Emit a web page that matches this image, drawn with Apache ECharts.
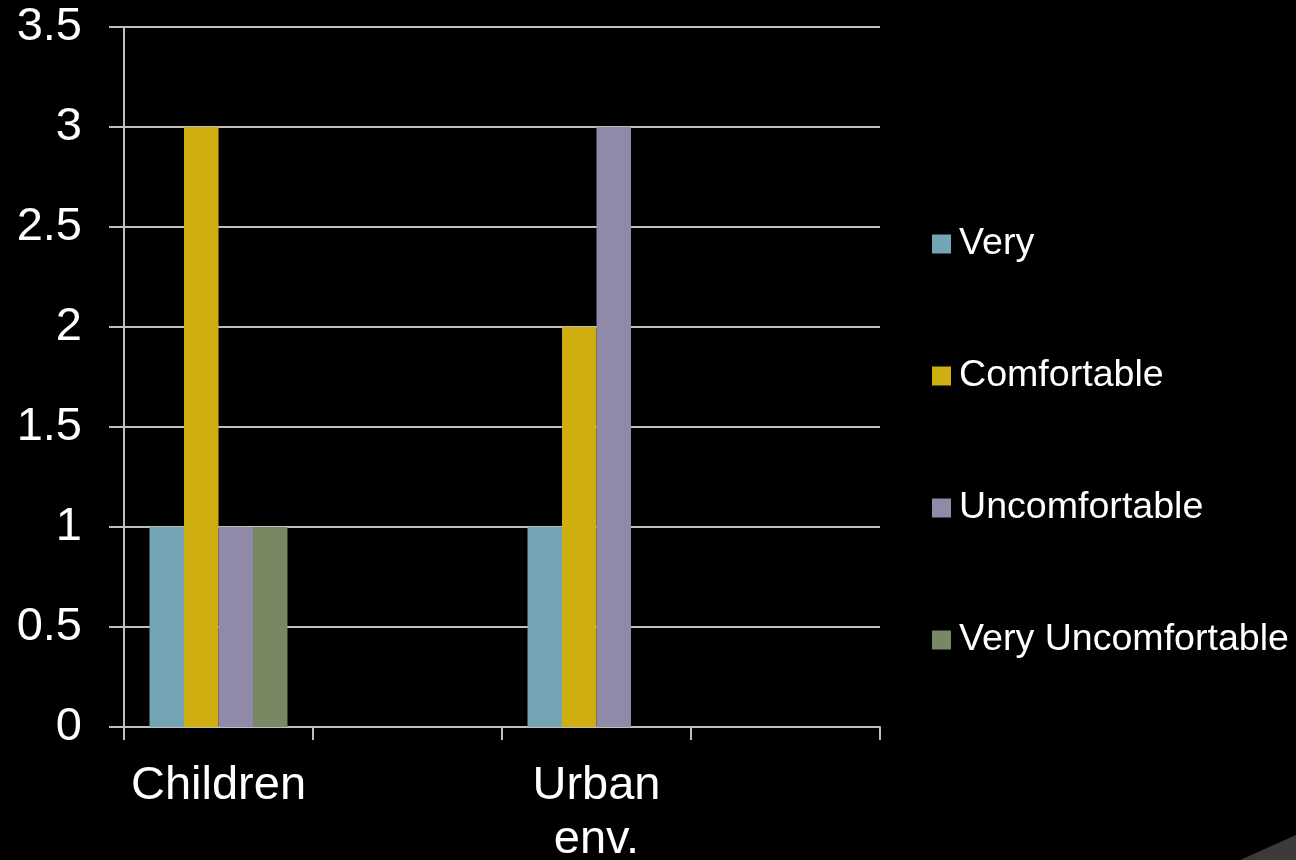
<!DOCTYPE html>
<html>
<head>
<meta charset="utf-8">
<style>html,body{margin:0;padding:0;background:#000;}#c{width:1296px;height:860px;}</style>
<script src="https://cdn.jsdelivr.net/npm/echarts@6/dist/echarts.min.js"></script>
</head>
<body>
<div id="c"></div>
<script>
const categories = ["Children", "", "Urban\nenv.", ""];
const seriesNames = ["Very", "Comfortable", "Uncomfortable", "Very Uncomfortable"];
const veryData = [1, null, 1, null];
const comfortableData = [3, null, 2, null];
const uncomfortableData = [1, null, 3, null];
const veryUncomfortableData = [1, null, 0, null];
const yTicks = { min: 0, max: 3.5, interval: 0.5 };
const colors = ["#74A5B4", "#CFAF10", "#8E8AA7", "#788862"];

const chart = echarts.init(document.getElementById('c'));
const font = 'Liberation Sans, Arial, sans-serif';
const values = [veryData, comfortableData, uncomfortableData, veryUncomfortableData];
chart.setOption({
  backgroundColor: '#000',
  animation: false,
  grid: { left: 124, right: 416, top: 27, bottom: 133, containLabel: false, outerBoundsMode: 'none' },
  legend: {
    orient: 'vertical', left: 927, top: 218,
    itemWidth: 19, itemHeight: 19, itemGap: 90, icon: 'rect',
    textStyle: { color: '#fff', fontSize: 37.6, fontFamily: font, lineHeight: 42, padding: [0,0,0,3] },
    data: seriesNames
  },
  xAxis: {
    type: 'category', data: categories,
    axisLine: { lineStyle: { color: '#BFBFBF', width: 2 } },
    axisTick: { show: true, length: 13, lineStyle: { color: '#BFBFBF', width: 2 } },
    axisLabel: { color: '#fff', fontSize: 47, fontFamily: font, margin: 32, lineHeight: 54, interval: 0 },
    splitLine: { show: false }
  },
  yAxis: {
    type: 'value', min: yTicks.min, max: yTicks.max, interval: yTicks.interval,
    axisLine: { show: true, lineStyle: { color: '#BFBFBF', width: 2 } },
    axisTick: { show: true, length: 15, lineStyle: { color: '#BFBFBF', width: 2 } },
    axisLabel: { color: '#fff', fontSize: 47, fontFamily: font, margin: 42 },
    splitLine: { show: true, lineStyle: { color: '#BFBFBF', width: 2 } }
  },
  series: seriesNames.map((n, i) => ({
    name: n, type: 'bar', data: values[i],
    barGap: '0%', barCategoryGap: '27%',
    itemStyle: { color: colors[i] }
  })),
  graphic: [{
    type: 'polygon', silent: true,
    shape: { points: [[1240, 860], [1296, 835], [1296, 860]] },
    style: { fill: '#3a3a3a' }
  }]
});
</script>
</body>
</html>
